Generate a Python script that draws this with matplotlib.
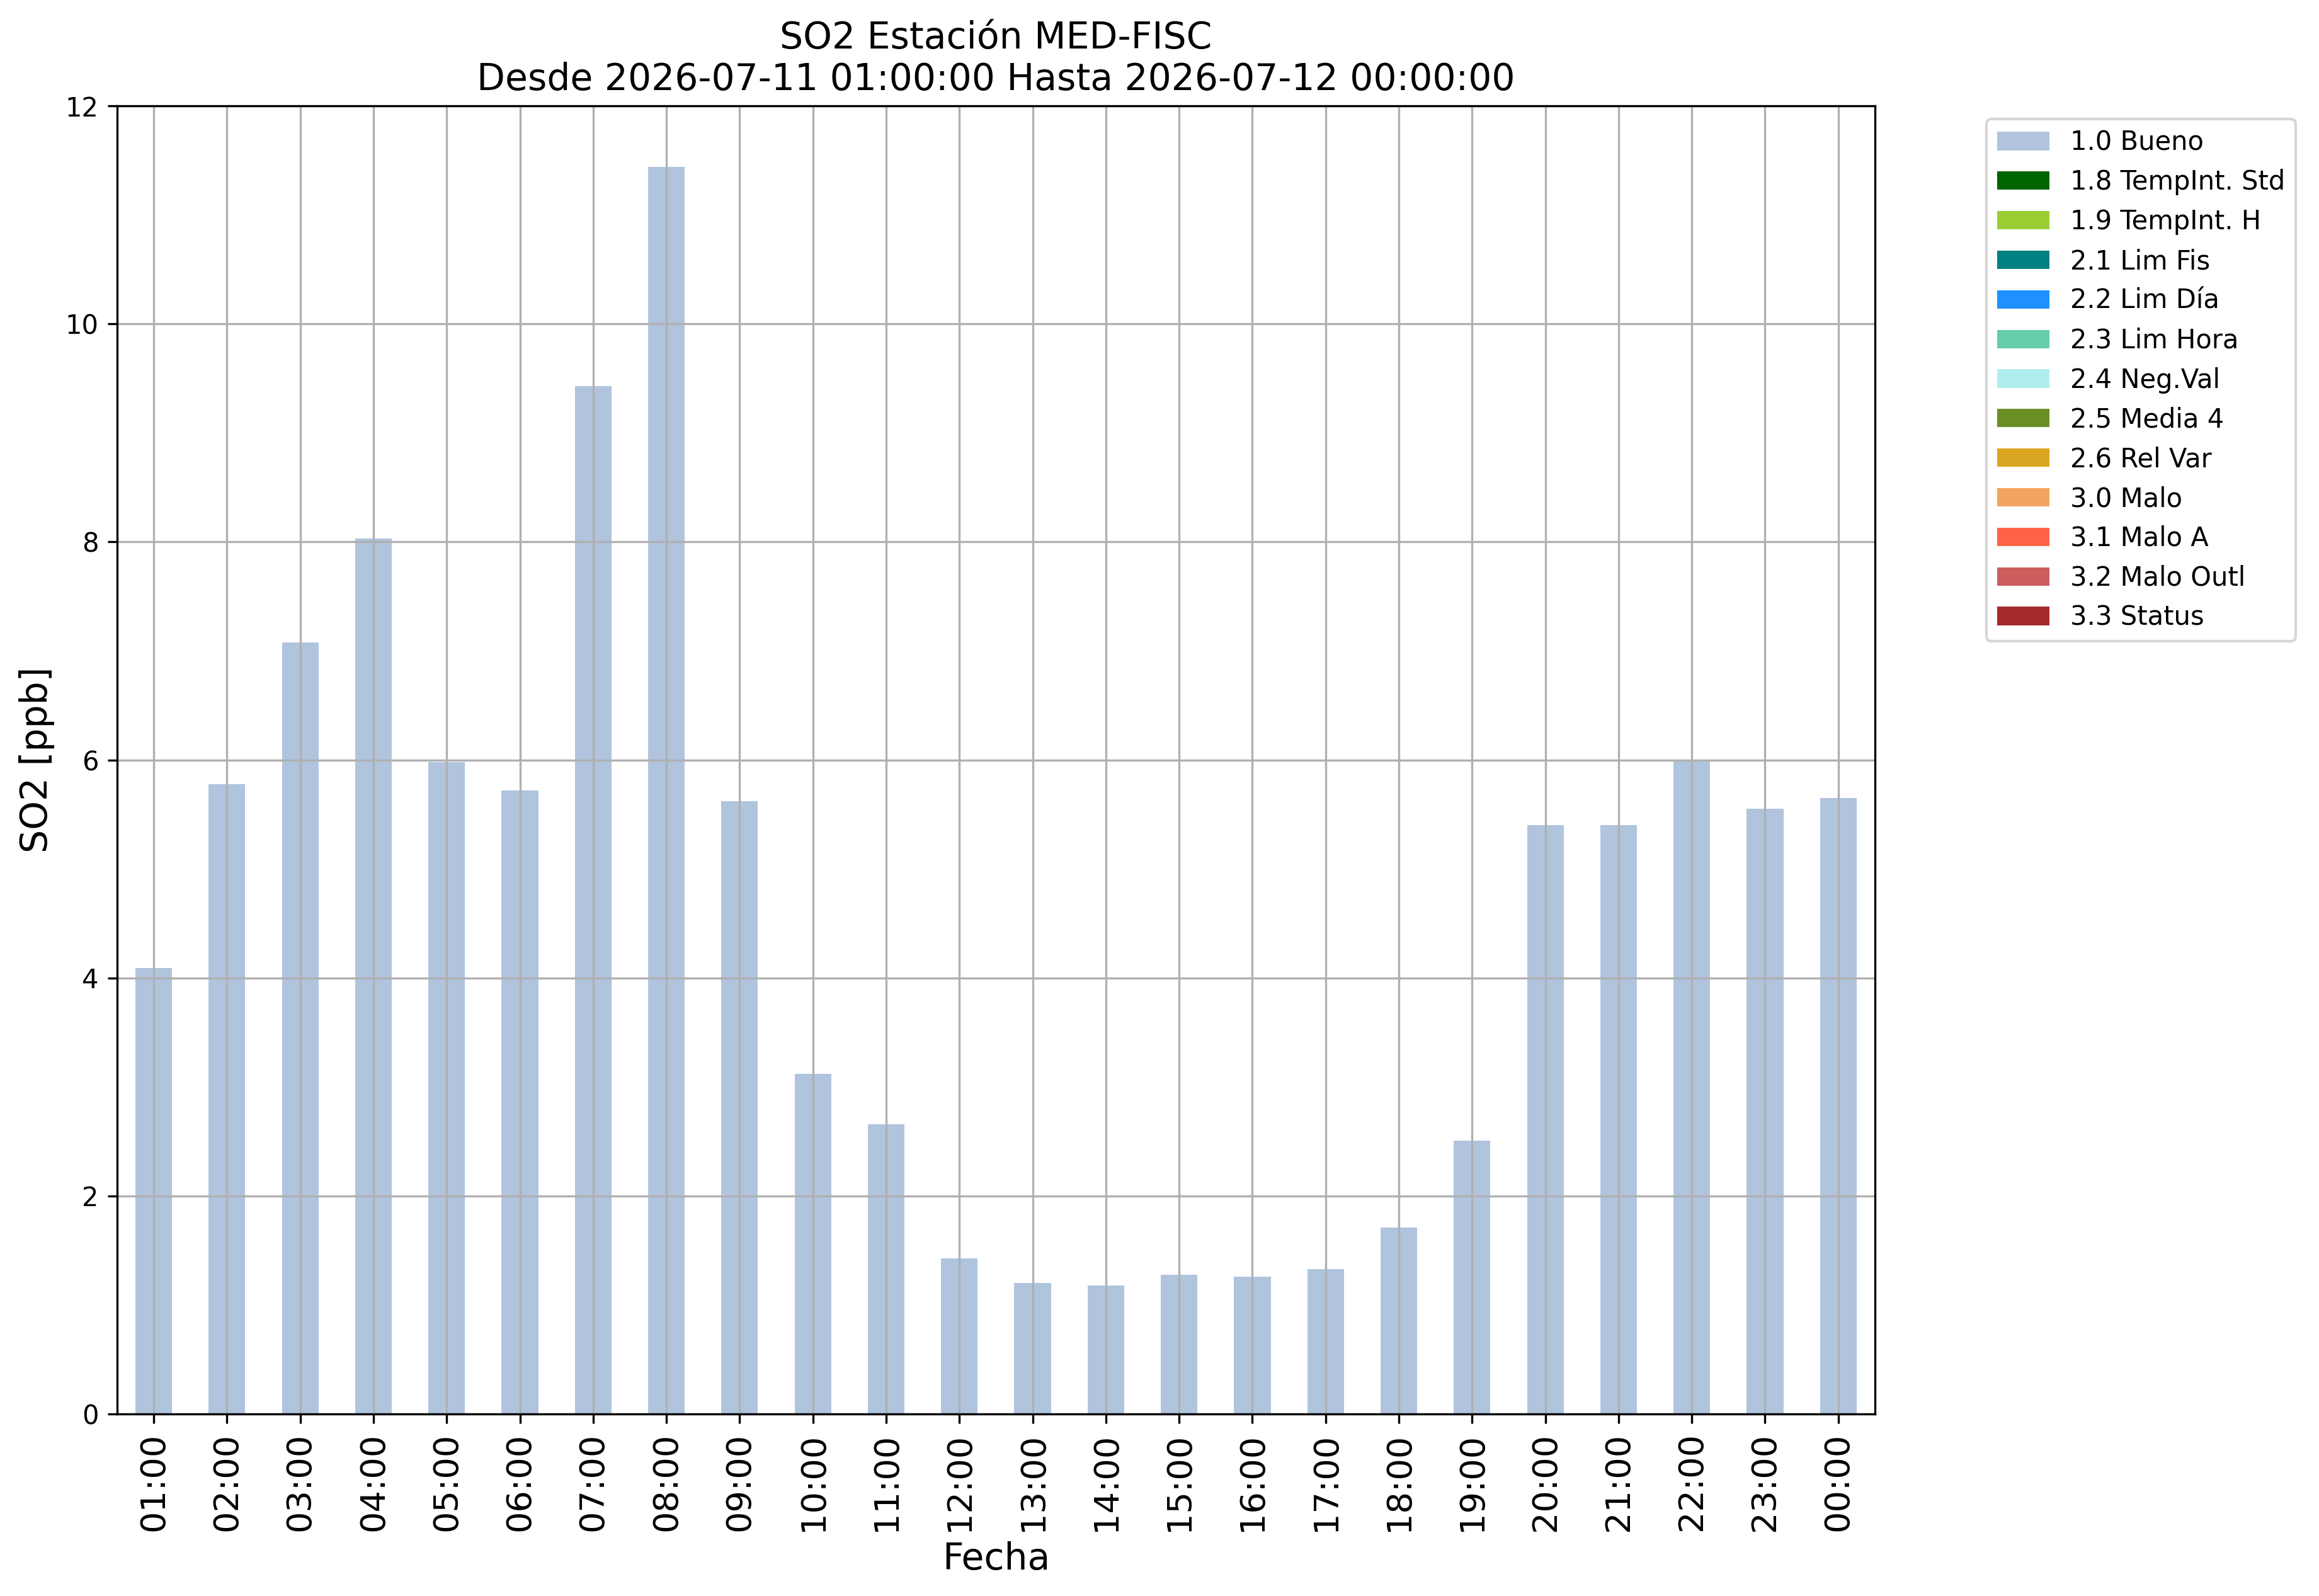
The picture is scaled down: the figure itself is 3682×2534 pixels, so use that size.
import matplotlib
matplotlib.use("Agg")
import matplotlib.pyplot as plt
import numpy as np

hours = ["01:00", "02:00", "03:00", "04:00", "05:00", "06:00", "07:00", "08:00",
         "09:00", "10:00", "11:00", "12:00", "13:00", "14:00", "15:00", "16:00",
         "17:00", "18:00", "19:00", "20:00", "21:00", "22:00", "23:00", "00:00"]
so2_bueno = [4.09, 5.78, 7.08, 8.03, 5.98, 5.72, 9.43, 11.44,
             5.62, 3.12, 2.66, 1.43, 1.20, 1.18, 1.28, 1.26,
             1.33, 1.71, 2.51, 5.40, 5.40, 5.99, 5.55, 5.65]

flag_labels = ["1.0 Bueno", "1.8 TempInt. Std", "1.9 TempInt. H", "2.1 Lim Fis",
               "2.2 Lim Día", "2.3 Lim Hora", "2.4 Neg.Val", "2.5 Media 4",
               "2.6 Rel Var", "3.0 Malo", "3.1 Malo A", "3.2 Malo Outl", "3.3 Status"]
flag_colors = ["lightsteelblue", "darkgreen", "yellowgreen", "teal",
               "dodgerblue", "mediumaquamarine", "paleturquoise", "olivedrab",
               "goldenrod", "sandybrown", "tomato", "indianred", "brown"]

title = "SO2 Estación MED-FISC\nDesde 2026-07-11 01:00:00 Hasta 2026-07-12 00:00:00"

fig = plt.figure(figsize=(3682 / 300, 2534 / 300), dpi=300)
ax = fig.add_axes([0.0505, 0.114, 0.758, 0.8197])

x = np.arange(len(hours))
series = {lab: (so2_bueno if i == 0 else [0.0] * len(hours))
          for i, lab in enumerate(flag_labels)}
bottom = np.zeros(len(hours))
for lab, col in zip(flag_labels, flag_colors):
    vals = np.array(series[lab], dtype=float)
    ax.bar(x, vals, width=0.5, bottom=bottom, color=col, label=lab)
    bottom = bottom + vals

ax.set_xlim(-0.5, len(hours) - 0.5)
ax.set_ylim(0, 12)
ax.set_yticks(np.arange(0, 13, 2))
ax.set_xticks(x)
ax.set_xticklabels(hours, rotation=90, fontsize=13)
ax.tick_params(axis="y", labelsize=10)
ax.grid(True, color="#b0b0b0", linewidth=0.8)

ax.set_xlabel("Fecha", fontsize=14)
ax.set_ylabel("SO2 [ppb]", fontsize=14)
ax.set_title(title, fontsize=14)

ax.legend(loc="upper left", bbox_to_anchor=(1.056, 1), fontsize=10)

fig.savefig("out.png", dpi=300)
